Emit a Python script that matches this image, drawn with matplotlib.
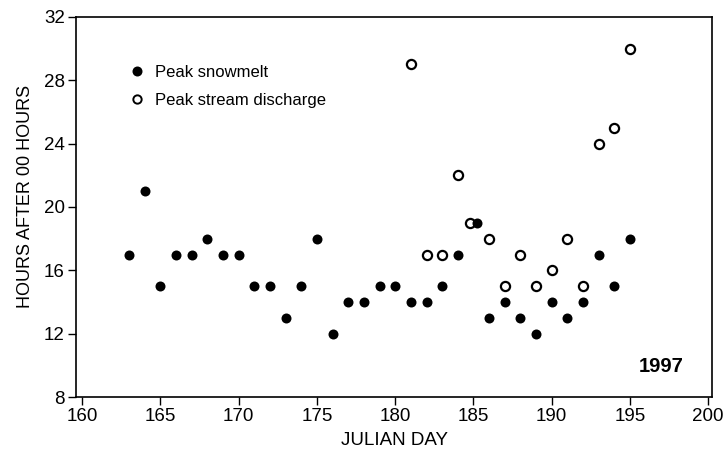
import matplotlib
matplotlib.use("Agg")
import matplotlib.pyplot as plt
from matplotlib.lines import Line2D

plt.rcParams['font.family'] = ['Liberation Sans', 'DejaVu Sans']

snow_days = [163, 164, 165, 166, 167, 168, 169, 170, 171, 172, 173, 174, 175, 176,
             177, 178, 179, 180, 181, 182, 183, 184, 185.2, 186, 187, 188, 189, 190,
             191, 192, 193, 194, 195]
snow_hours = [17, 21, 15, 17, 17, 18, 17, 17, 15, 15, 13, 15, 18, 12,
              14, 14, 15, 15, 14, 14, 15, 17, 19, 13, 14, 13, 12, 14,
              13, 14, 17, 15, 18]

stream_days = [181, 182, 183, 184, 184.8, 186, 187, 188, 189, 190, 191, 192, 193, 194, 195]
stream_hours = [29, 17, 17, 22, 19, 18, 15, 17, 15, 16, 18, 15, 24, 25, 30]

xticks = [160, 165, 170, 175, 180, 185, 190, 195, 200]
yticks = [8, 12, 16, 20, 24, 28, 32]

fig = plt.figure(figsize=(7.27, 4.53), dpi=100)
ax = fig.add_axes([0.1045, 0.1236, 0.875, 0.8389])

ax.plot(stream_days, stream_hours, linestyle='none', marker='o', ms=6.6,
        mfc='white', mec='black', mew=1.6, zorder=3)
ax.plot(snow_days, snow_hours, linestyle='none', marker='o', ms=7.2,
        mfc='black', mec='black', mew=0, zorder=4)

ax.set_xlim(159.6, 200.25)
ax.set_ylim(8, 32)
ax.set_xticks(xticks)
ax.set_yticks(yticks)
ax.tick_params(direction='out', length=6, width=1.0, labelsize=13.5,
               top=False, right=False, pad=2)
for s in ax.spines.values():
    s.set_linewidth(1.2)

ax.set_xlabel('JULIAN DAY', fontsize=13.5, labelpad=5)
ax.set_ylabel('HOURS AFTER 00 HOURS', fontsize=13)
ax.yaxis.set_label_coords(-0.066, 0.527)

handles = [
    Line2D([], [], linestyle='none', marker='o', ms=7.2, mfc='black', mec='black', mew=0),
    Line2D([], [], linestyle='none', marker='o', ms=6.0, mfc='white', mec='black', mew=1.4),
]
ax.legend(handles, ['Peak snowmelt', 'Peak stream discharge'], loc='upper left',
          bbox_to_anchor=(0.07, 0.895), frameon=False, fontsize=12,
          handletextpad=0.55, labelspacing=0.75, handlelength=1.0, borderpad=0)

ax.text(0.92, 0.08, '1997', transform=ax.transAxes, fontsize=14.5,
        fontweight='bold', ha='center', va='center')

fig.savefig('out.png', dpi=100)
